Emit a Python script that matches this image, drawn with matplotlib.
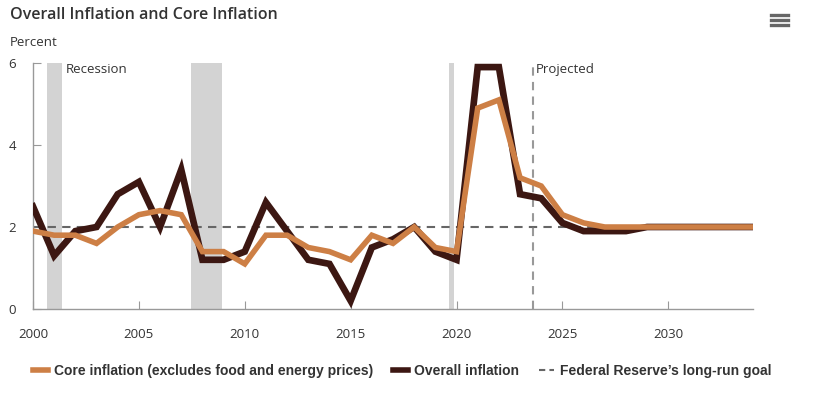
import matplotlib
matplotlib.use("Agg")
import matplotlib.pyplot as plt
from matplotlib.lines import Line2D

# Data (annual values, percent)
years = list(range(2000, 2035))
overall = [2.5, 1.3, 1.9, 2.0, 2.8, 3.1, 2.0, 3.4, 1.2, 1.2,
           1.4, 2.6, 1.9, 1.2, 1.1, 0.2, 1.5, 1.7, 2.0, 1.4,
           1.2, 5.9, 5.9, 2.8, 2.7, 2.1, 1.9, 1.9, 1.9, 2.0,
           2.0, 2.0, 2.0, 2.0, 2.0]
core = [1.9, 1.8, 1.8, 1.6, 2.0, 2.3, 2.4, 2.3, 1.4, 1.4,
        1.1, 1.8, 1.8, 1.5, 1.4, 1.2, 1.8, 1.6, 2.0, 1.5,
        1.4, 4.9, 5.1, 3.2, 3.0, 2.3, 2.1, 2.0, 2.0, 2.0,
        2.0, 2.0, 2.0, 2.0, 2.0]
goal = 2.0
recessions = [(2000.65, 2001.35), (2007.47, 2008.91), (2019.63, 2019.86)]
projected_start = 2023.6
xticks = [2000, 2005, 2010, 2015, 2020, 2025, 2030]
yticks = [0, 2, 4, 6]

c_core = "#cd7f45"
c_overall = "#3c1712"
c_text = "#333333"
c_axis = "#999999"

fig = plt.figure(figsize=(8.18, 3.94), dpi=100)
ax = fig.add_axes([33/818, 1-309/394, 720/818, 246/394])

for a, b in recessions:
    ax.axvspan(a, b, color="#d3d3d3", lw=0, zorder=1)

ax.axhline(goal, color="#666666", lw=1.5, ls=(0, (4, 3)), zorder=2)
ax.axvline(projected_start, color="#999999", lw=1.5, ls=(0, (4, 3)), zorder=2)

ax.plot(years, overall, color=c_overall, lw=4.8, solid_joinstyle="miter", zorder=3)
ax.plot(years, core, color=c_core, lw=4, solid_joinstyle="miter", zorder=4)

ax.text(2001.55, 5.85, "Recession", fontsize=9.5, family="Open Sans", color=c_text, va="center")
ax.text(projected_start + 0.12, 5.85, "Projected", fontsize=9.5, family="Open Sans", color=c_text, va="center")

ax.set_xlim(2000, 2034)
ax.set_ylim(0, 6)
ax.set_xticks(xticks)
ax.set_yticks(yticks)
ax.tick_params(direction="in", length=6, color=c_axis, labelcolor=c_text, labelsize=9.5)
ax.tick_params(axis="x", pad=14)
ax.tick_params(axis="y", pad=12)
for lab in ax.get_xticklabels() + ax.get_yticklabels():
    lab.set_family("Open Sans")
for s in ["top", "right"]:
    ax.spines[s].set_visible(False)
for s in ["left", "bottom"]:
    ax.spines[s].set_color(c_axis)
    ax.spines[s].set_linewidth(1)

fig.text(10/818, 1-15/394, "Overall Inflation and Core Inflation", fontsize=11.5,
         family="Open Sans", weight="semibold", color=c_text, va="center")
fig.text(10/818, 1-42/394, "Percent", fontsize=9.5, family="Open Sans", color=c_text, va="center")

# menu icon
for yy in [15, 20, 25]:
    fig.add_artist(Line2D([771/818, 788/818], [1-yy/394, 1-yy/394], color="#666666", lw=2.4))

handles = [Line2D([], [], color=c_core, lw=4),
           Line2D([], [], color=c_overall, lw=4),
           Line2D([], [], color="#666666", lw=1.5, ls=(0, (3, 2)))]
labels = ["Core inflation (excludes food and energy prices)", "Overall inflation",
          "Federal Reserve\u2019s long-run goal"]
fig.legend(handles, labels, loc="center", bbox_to_anchor=(402/818, 1-371/394), ncol=3,
           frameon=False, handlelength=1.1, handletextpad=0.4, columnspacing=1.45,
           prop={"family": "Liberation Sans", "weight": "bold", "size": 10}, labelcolor=c_text)

fig.savefig("out.png", dpi=100)
